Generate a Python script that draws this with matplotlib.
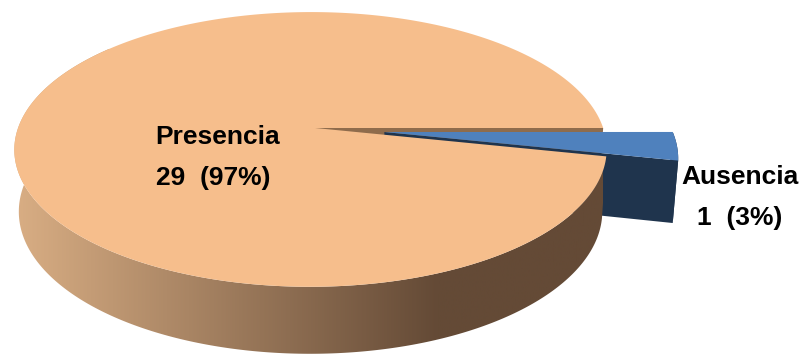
import matplotlib
matplotlib.use('Agg')
import matplotlib.pyplot as plt
import numpy as np
from matplotlib.patches import Polygon
from matplotlib.colors import LinearSegmentedColormap

plt.rcParams['font.family'] = ['Liberation Sans', 'DejaVu Sans']

# data
categories = ["Presencia", "Ausencia"]
values = [29, 1]
percents = [97, 3]

peach = '#F6BE8C'
blue = '#4F81BD'
navy = '#1F344D'
cut_brown = '#8F6C4C'

# view of the pie, in pixels
x0, y0 = 315.0, 128.0
rx, ry = 292.5, 134.0
k, m = 0.156, 0.015


def project(u, v):
    w = 1 + k * v + m * u
    return x0 + rx * u / w, y0 - ry * v / w


def drop(x, v):
    # same rim, one pie thickness lower
    return x0 + (x - x0) * 0.985, 61 - 6 * v


def rim(a1, a2, cu=0.0, cv=0.0, r=1.0):
    t = np.radians(np.linspace(a1, a2, 300))
    u = cu + r * np.cos(t)
    v = cv + r * np.sin(t)
    return u, v


def side(u, v):
    x, y = project(u, v)
    xb, h = drop(x, v)
    top = np.column_stack([x, y])
    bottom = np.column_stack([xb, y + h])[::-1]
    return np.vstack([top, bottom])


fig = plt.figure(figsize=(8.03, 3.54), dpi=100)
ax = fig.add_axes([0, 0, 1, 1])
ax.set_xlim(0, 803)
ax.set_ylim(354, 0)
ax.axis('off')

# slice angles come from the values, first slice runs counter clockwise from 0
sweep = 360.0 * values[1] / sum(values)
end = 360.0 - sweep

# peach cut face, seen through the gap
u, v = np.array([0.0, 1.0]), np.array([0.0, 0.0])
ax.add_patch(Polygon(side(u, v), closed=True, fc=cut_brown, ec='none', zorder=1))

# exploded slice
cu, cv, r = 0.237, -0.03, 1.003
u, v = rim(-sweep, 0, cu, cv, r)
ax.add_patch(Polygon(side(u, v), closed=True, fc=navy, ec='none', zorder=2))
u2 = np.array([cu, cu + r * np.cos(np.radians(-sweep))])
v2 = np.array([cv, cv + r * np.sin(np.radians(-sweep))])
ax.add_patch(Polygon(side(u2, v2), closed=True, fc=navy, ec='none', zorder=2))
x, y = project(u, v)
ax_x, ax_y = project(cu, cv)
ax.add_patch(Polygon(np.column_stack([np.r_[ax_x, x], np.r_[ax_y, y]]), closed=True,
                     fc=blue, ec='none', zorder=3))

# outer wall of the big slice, shaded left to right
u, v = rim(140, end)
wall = Polygon(side(u, v), closed=True, fc='none', ec='none', zorder=4)
ax.add_patch(wall)
shade = LinearSegmentedColormap.from_list('wall', [(0, '#D9AE84'), (0.72, '#644A36'), (1, '#644A36')])
grad = np.linspace(0, 1, 256).reshape(1, -1)
img = ax.imshow(grad, cmap=shade, extent=[14, 603, 354, 0], aspect='auto', zorder=4)
img.set_clip_path(wall)

# top of the big slice
u, v = rim(0, end)
x, y = project(u, v)
ax.add_patch(Polygon(np.column_stack([np.r_[x0, x], np.r_[y0, y]]), closed=True,
                     fc=peach, ec='none', zorder=5))

ax.set_xlim(0, 803)
ax.set_ylim(354, 0)

fs = 19
ax.text(218, 137.5, categories[0], ha='center', va='center', fontsize=fs, fontweight='bold', zorder=6)
ax.text(213, 178.5, "%d  (%d%%)" % (values[0], percents[0]), ha='center', va='center',
        fontsize=fs, fontweight='bold', zorder=6)
ax.text(740, 176.5, categories[1], ha='center', va='center', fontsize=fs, fontweight='bold', zorder=6)
ax.text(740, 217.5, "%d  (%d%%)" % (values[1], percents[1]), ha='center', va='center',
        fontsize=fs, fontweight='bold', zorder=6)

fig.savefig('out.png', dpi=100)
